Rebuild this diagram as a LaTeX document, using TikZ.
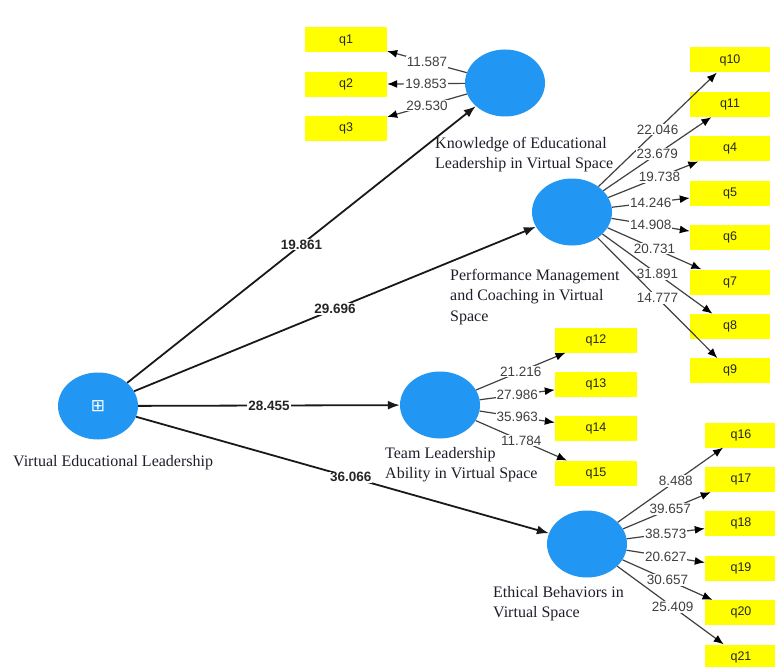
\documentclass[tikz,border=0pt]{standalone}
\usepackage{fontspec}
\setmainfont{Liberation Serif}
\setsansfont{Liberation Sans}
\newfontfamily\symfont{DejaVu Sans}
\usetikzlibrary{arrows.meta,positioning,shapes.geometric}
\definecolor{latentblue}{HTML}{2196F3}
\definecolor{itemyellow}{HTML}{FFFF00}
\definecolor{loadgray}{HTML}{404040}
\definecolor{captext}{HTML}{1E1E2A}

\begin{document}
\begin{tikzpicture}[x=1pt,y=-1pt,node distance=19pt,
  latent/.style={ellipse,fill=latentblue,minimum width=80pt,minimum height=67pt,inner sep=0pt},
  item/.style={fill=itemyellow,minimum width=82pt,minimum height=25pt,inner sep=0pt,
    font=\sffamily\fontsize{12.5}{14}\selectfont,text=black!85},
  path/.style={-{Latex[length=12pt,width=9pt]},line width=1.8pt,black!90},
  load/.style={-{Latex[length=10pt,width=8pt,color=black]},line width=1.2pt,loadgray},
  coef/.style={fill=white,inner sep=1pt,font=\sffamily\bfseries\fontsize{13.5}{15}\selectfont,text=black!85},
  wt/.style={fill=white,inner sep=1pt,font=\sffamily\fontsize{13.5}{15}\selectfont,text=loadgray},
  capt/.style={anchor=north west,align=left,inner sep=0pt,font=\fontsize{16}{20.5}\selectfont,text=captext}]
  \useasboundingbox (0,0) rectangle (775,666);

  % latent variables
  \node[latent] (vel) at (98,406) {};
  \node[text=white,font=\symfont\fontsize{17}{17}\selectfont] (velicon) at (vel) {⊞};
  \node[latent] (know) at (505,83) {};
  \node[latent] (perf) at (572,212) {};
  \node[latent] (team) at (440,405) {};
  \node[latent] (ethic) at (587,544) {};

  \node[capt] (velcap) at (13,455) {Virtual Educational Leadership};
  \node[capt] (knowcap) at (435,137) {Knowledge of Educational\\Leadership in Virtual Space};
  \node[capt] (perfcap) at (450,269) {Performance Management\\and Coaching in Virtual\\Space};
  \node[capt] (teamcap) at (385,447) {Team Leadership\\Ability in Virtual Space};
  \node[capt] (ethiccap) at (493,586) {Ethical Behaviors in\\Virtual Space};

  % indicators
  \node[item] (q1) at (346,40) {q1};
  \node[item,below=of q1] (q2) {q2};
  \node[item,below=of q2] (q3) {q3};

  \node[item,minimum width=80pt] (q10) at (730,60) {q10};
  \node[item,minimum width=80pt,below=of q10] (q11) {q11};
  \node[item,minimum width=80pt,below=of q11] (q4) {q4};
  \node[item,minimum width=80pt,below=of q4] (q5) {q5};
  \node[item,minimum width=80pt,below=of q5] (q6) {q6};
  \node[item,minimum width=80pt,below=of q6] (q7) {q7};
  \node[item,minimum width=80pt,below=of q7] (q8) {q8};
  \node[item,minimum width=80pt,below=of q8] (q9) {q9};

  \node[item] (q12) at (596,340) {q12};
  \node[item,below=of q12] (q13) {q13};
  \node[item,below=of q13] (q14) {q14};
  \node[item,below=of q14] (q15) {q15};

  \node[item,minimum width=72pt] (q16) at (741,435) {q16};
  \node[item,minimum width=72pt,below=of q16] (q17) {q17};
  \node[item,minimum width=72pt,below=of q17] (q18) {q18};
  \node[item,minimum width=72pt,below=of q18] (q19) {q19};
  \node[item,minimum width=72pt,below=of q19] (q20) {q20};
  \node[item,minimum width=72pt,below=of q20] (q21) {q21};

  % structural paths
  \draw[path] (vel) -- node[coef] {19.861} (know);
  \draw[path] (vel) -- node[coef] {29.696} (perf);
  \draw[path] (vel) -- node[coef] {28.455} (team);
  \draw[path] (vel) -- node[coef,pos=0.52] {36.066} (ethic);

  % outer loadings
  \draw[load] (know) -- node[wt] {11.587} (q1);
  \draw[load] (know) -- node[wt] {19.853} (q2);
  \draw[load] (know) -- node[wt] {29.530} (q3);

  \draw[load] (perf) -- node[wt] {22.046} (q10);
  \draw[load] (perf) -- node[wt] {23.679} (q11);
  \draw[load] (perf) -- node[wt,pos=0.57] {19.738} (q4);
  \draw[load] (perf) -- node[wt] {14.246} (q5);
  \draw[load] (perf) -- node[wt] {14.908} (q6);
  \draw[load] (perf) -- node[wt] {20.731} (q7);
  \draw[load] (perf) -- node[wt] {31.891} (q8);
  \draw[load] (perf) -- node[wt] {14.777} (q9);

  \draw[load] (team) -- node[wt] {21.216} (q12);
  \draw[load] (team) -- node[wt] {27.986} (q13);
  \draw[load] (team) -- node[wt] {35.963} (q14);
  \draw[load] (team) -- node[wt] {11.784} (q15);

  \draw[load] (ethic) -- node[wt,pos=0.55] {8.488} (q16);
  \draw[load] (ethic) -- node[wt,pos=0.54] {39.657} (q17);
  \draw[load] (ethic) -- node[wt] {38.573} (q18);
  \draw[load] (ethic) -- node[wt] {20.627} (q19);
  \draw[load] (ethic) -- node[wt] {30.657} (q20);
  \draw[load] (ethic) -- node[wt,pos=0.52] {25.409} (q21);
\end{tikzpicture}
\end{document}
